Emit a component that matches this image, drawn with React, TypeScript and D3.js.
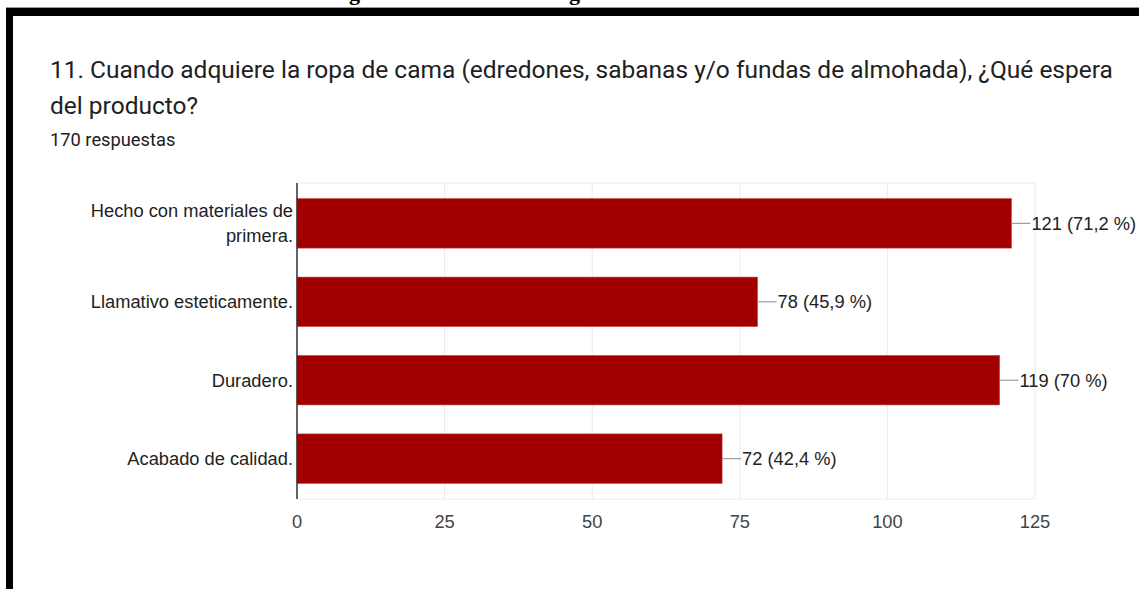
import React from "react";
import * as d3 from "d3";

const categories = [
  ["Hecho con materiales de", "primera."],
  ["Llamativo esteticamente."],
  ["Duradero."],
  ["Acabado de calidad."],
];
const values = [121, 78, 119, 72];
const percents = ["71,2 %", "45,9 %", "70 %", "42,4 %"];
const xTicks = [0, 25, 50, 75, 100, 125];

const W = 1139;
const H = 589;
const M = { left: 297, right: 1035, top: 183, bottom: 499 };
const FONT = "'Liberation Sans', Arial, sans-serif";
const FS = 18.3;

export default function App() {
  const x = d3.scaleLinear().domain([0, 125]).range([M.left, M.right]);
  const y = d3
    .scaleBand<number>()
    .domain(d3.range(values.length))
    .range([M.top, M.bottom])
    .paddingInner(0.37)
    .paddingOuter(0.2);

  return (
    <svg
      width={W}
      height={H}
      style={{ position: "absolute", left: 0, top: 0, background: "#fff" }}
    >
      <rect x={0} y={0} width={W} height={H} fill="#fff" />
      {/* clipped heading from page above */}
      <text x={349} y={0} fontFamily="'Liberation Serif', serif" fontWeight="bold" fontSize={22} fill="#000">g</text>
      <text x={569} y={0} fontFamily="'Liberation Serif', serif" fontWeight="bold" fontSize={22} fill="#000">g</text>
      {/* frame */}
      <rect x={6} y={7} width={W - 6} height={1.2} fill="#999" />
      <rect x={6} y={8} width={W - 6} height={8} fill="#000" />
      <rect x={6} y={8} width={7} height={H - 8} fill="#000" />

      {/* title */}
      <text x={50} y={78} fontFamily="Roboto, sans-serif" fontSize={24.5} fill="#202124">
        11. Cuando adquiere la ropa de cama (edredones, sabanas y/o fundas de almohada), ¿Qué espera
      </text>
      <text x={50} y={114} fontFamily="Roboto, sans-serif" fontSize={24.5} fill="#202124">
        del producto?
      </text>
      <text x={50} y={146} fontFamily="Roboto, sans-serif" fontSize={18.3} fill="#202124">
        170 respuestas
      </text>

      {/* grid */}
      {xTicks.map((t) => (
        <line key={"g" + t} x1={x(t)} x2={x(t)} y1={M.top} y2={M.bottom} stroke="#ebebeb" strokeWidth={1} />
      ))}
      <line x1={M.left} x2={M.right} y1={M.top} y2={M.top} stroke="#ebebeb" />
      <line x1={M.left} x2={M.right} y1={M.bottom} y2={M.bottom} stroke="#ebebeb" />

      {/* bars */}
      {values.map((v, i) => {
        const by = y(i)!;
        const bh = y.bandwidth();
        const cy = by + bh / 2;
        return (
          <g key={i}>
            <rect x={x(0)} y={by} width={x(v) - x(0)} height={bh} fill="#a20000" stroke="#c0393a" strokeWidth={0.6} />
            <line x1={x(v)} x2={x(v) + 19} y1={cy} y2={cy} stroke="#9e9e9e" strokeWidth={1.2} />
            <text x={x(v) + 20} y={cy} dy="0.36em" fontFamily={FONT} fontSize={FS} fill="#222">
              {`${v} (${percents[i]})`}
            </text>
            {categories[i].map((line, j) => (
              <text
                key={j}
                x={M.left - 4}
                y={cy + (j - (categories[i].length - 1) / 2) * 25}
                dy="0.36em"
                textAnchor="end"
                fontFamily={FONT}
                fontSize={FS}
                fill="#222"
              >
                {line}
              </text>
            ))}
          </g>
        );
      })}

      {/* left axis */}
      <line x1={M.left} x2={M.left} y1={M.top} y2={M.bottom} stroke="#333" strokeWidth={1.5} />

      {/* x tick labels */}
      {xTicks.map((t) => (
        <text key={"t" + t} x={x(t)} y={521} dy="0.36em" textAnchor="middle" fontFamily={FONT} fontSize={FS} fill="#444">
          {t}
        </text>
      ))}
    </svg>
  );
}
